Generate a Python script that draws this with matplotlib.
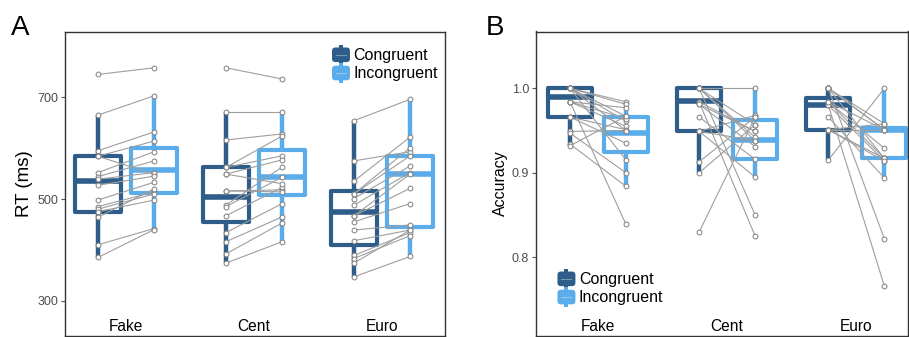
import matplotlib.pyplot as plt
from matplotlib.legend_handler import HandlerBase
from matplotlib.patches import FancyBboxPatch, Rectangle, Patch
from matplotlib.lines import Line2D

plt.rcParams['font.family'] = ['Liberation Sans', 'DejaVu Sans']

conditions = ['Fake', 'Cent', 'Euro']
dark = '#2d5d88'
light = '#5aacea'

# reaction times (ms), one value per participant, paired by index
rt_fake_con = [745, 665, 595, 584, 584, 552, 544, 539, 527, 498, 485, 480, 475, 464, 410, 385]
rt_fake_inc = [758, 703, 632, 614, 549, 593, 575, 552, 545, 533, 514, 510, 498, 520, 442, 440]
rt_cent_con = [758, 671, 616, 562, 562, 549, 516, 516, 488, 485, 467, 434, 416, 392, 374, 549]
rt_cent_inc = [736, 671, 628, 624, 585, 577, 518, 514, 563, 543, 523, 491, 465, 453, 416, 530]
rt_euro_con = [654, 575, 535, 510, 510, 501, 488, 467, 467, 455, 439, 418, 389, 383, 374, 347]
rt_euro_inc = [696, 593, 622, 601, 585, 565, 552, 549, 521, 491, 449, 439, 434, 428, 439, 387]

# RT box summaries per condition: Fake, Cent, Euro
rt_con_q1 = [474, 455, 410]
rt_con_med = [535, 503, 475]
rt_con_q3 = [584, 562, 516]
rt_con_lo = [385, 374, 347]
rt_con_hi = [665, 671, 654]
rt_inc_q1 = [511, 508, 444]
rt_inc_med = [557, 543, 550]
rt_inc_q3 = [601, 596, 585]
rt_inc_lo = [440, 416, 387]
rt_inc_hi = [703, 671, 696]

# accuracy (proportion correct), paired by index
acc_fake_con = [1.0, 1.0, 1.0, 1.0, 1.0, 1.0, 0.984, 0.984, 0.984, 0.984, 0.966, 0.966, 0.949, 0.947, 0.934, 0.932]
acc_fake_inc = [0.984, 0.981, 0.967, 0.961, 0.950, 0.915, 0.839, 0.977, 0.964, 0.955, 0.951, 0.935, 0.950, 0.900, 0.884, 0.967]
acc_cent_con = [1.0, 1.0, 1.0, 1.0, 1.0, 0.984, 0.984, 0.981, 0.966, 0.949, 0.949, 0.949, 0.913, 0.900, 0.830, 0.981]
acc_cent_inc = [1.0, 0.957, 0.942, 0.938, 0.850, 0.825, 0.949, 0.931, 0.916, 0.968, 0.938, 0.895, 0.966, 0.957, 0.966, 0.949]
acc_euro_con = [1.0, 1.0, 1.0, 1.0, 0.984, 0.984, 0.980, 0.980, 0.966, 0.951, 0.951, 0.951, 0.915, 1.0, 0.984, 0.951]
acc_euro_inc = [0.958, 0.951, 0.917, 0.822, 0.951, 0.929, 0.766, 0.914, 0.894, 0.958, 0.951, 0.917, 1.0, 0.951, 0.917, 0.914]

acc_con_q1 = [0.966, 0.949, 0.951]
acc_con_med = [0.990, 0.985, 0.980]
acc_con_q3 = [1.0, 1.0, 0.988]
acc_con_lo = [0.932, 0.900, 0.915]
acc_con_hi = [1.0, 1.0, 1.0]
acc_inc_q1 = [0.925, 0.916, 0.917]
acc_inc_med = [0.947, 0.939, 0.951]
acc_inc_q3 = [0.966, 0.962, 0.953]
acc_inc_lo = [0.884, 0.895, 0.894]
acc_inc_hi = [0.984, 1.0, 1.0]


class BoxKey(HandlerBase):
    # little boxplot glyph for the legend
    def create_artists(self, legend, orig_handle, xdescent, ydescent,
                       width, height, fontsize, trans):
        c = orig_handle.get_facecolor()
        x0, y0 = -xdescent, -ydescent
        body = FancyBboxPatch((x0 + width * 0.05, y0 + height * 0.08), width * 0.9, height * 0.84,
                              boxstyle='round,pad=0,rounding_size=2.5', fc=c, ec='none',
                              transform=trans)
        nub = Rectangle((x0 + width * 0.4, y0 - height * 0.08), width * 0.2, height * 1.16,
                        fc=c, ec='none', transform=trans)
        mid = Line2D([x0 + width * 0.25, x0 + width * 0.75], [y0 + height / 2] * 2,
                     color='white', alpha=0.35, lw=0.8, transform=trans)
        return [body, nub, mid]


def summaries(q1, med, q3, lo, hi):
    return [dict(q1=a, med=b, q3=c, whislo=d, whishi=e, fliers=[])
            for a, b, c, d, e in zip(q1, med, q3, lo, hi)]


def draw_panel(ax, con_sets, inc_sets, con_stats, inc_stats, off, bw):
    pos = list(range(len(conditions)))
    for stats, shift, c in [(con_stats, -off, dark), (inc_stats, off, light)]:
        ax.bxp(stats, positions=[p + shift for p in pos], widths=bw,
               patch_artist=True, showcaps=False, showfliers=False,
               boxprops=dict(facecolor='white', edgecolor=c, linewidth=3.0, joinstyle='round'),
               whiskerprops=dict(color=c, linewidth=3.2, solid_capstyle='butt'),
               medianprops=dict(color=c, linewidth=4.0, solid_capstyle='butt'),
               zorder=2)
    for p, con, inc in zip(pos, con_sets, inc_sets):
        xc, xi = p - off, p + off
        for a, b in zip(con, inc):
            ax.plot([xc, xi], [a, b], color='#9e9e9e', lw=0.8, zorder=3)
        ax.plot([xc] * len(con), con, 'o', ms=3.5, mfc='white', mec='#7f7f7f', mew=0.7, zorder=4)
        ax.plot([xi] * len(inc), inc, 'o', ms=3.5, mfc='white', mec='#7f7f7f', mew=0.7, zorder=4)
        ax.text(p, 0.015, conditions[p], transform=ax.get_xaxis_transform(),
                ha='center', va='baseline', fontsize=11.2)
    ax.set_xticks([])
    for s in ax.spines.values():
        s.set_color('#333333')
        s.set_linewidth(1.0)
    ax.tick_params(axis='y', length=3, width=0.8, color='#555555', labelcolor='#4d4d4d', pad=2)


fig = plt.figure(figsize=(9.09, 3.37), dpi=100)
W, H = 909, 337

axA = fig.add_axes([65 / W, 1.5 / H, 380 / W, 304 / H])
draw_panel(axA,
           [rt_fake_con, rt_cent_con, rt_euro_con],
           [rt_fake_inc, rt_cent_inc, rt_euro_inc],
           summaries(rt_con_q1, rt_con_med, rt_con_q3, rt_con_lo, rt_con_hi),
           summaries(rt_inc_q1, rt_inc_med, rt_inc_q3, rt_inc_lo, rt_inc_hi),
           0.22, 0.36)
axA.set_xlim(-0.477, 2.492)
axA.set_ylim(231.6, 829.4)
axA.set_yticks([300, 500, 700])
axA.tick_params(axis='y', labelsize=9.0)
axA.set_ylabel('RT (ms)', fontsize=13.5, labelpad=3)

axB = fig.add_axes([536 / W, 1.5 / H, 372 / W, 304 / H])
draw_panel(axB,
           [acc_fake_con, acc_cent_con, acc_euro_con],
           [acc_fake_inc, acc_cent_inc, acc_euro_inc],
           summaries(acc_con_q1, acc_con_med, acc_con_q3, acc_con_lo, acc_con_hi),
           summaries(acc_inc_q1, acc_inc_med, acc_inc_q3, acc_inc_lo, acc_inc_hi),
           0.217, 0.34)
axB.set_xlim(-0.48, 2.40)
axB.set_ylim(0.7075, 1.0672)
axB.set_yticks([0.8, 0.9, 1.0])
axB.set_yticklabels(['0.8', '0.9', '1.0'])
axB.tick_params(axis='y', labelsize=9.0)
axB.set_ylabel('Accuracy', fontsize=11.5, labelpad=3)

handles = [Patch(facecolor=dark), Patch(facecolor=light)]
labels = ['Congruent', 'Incongruent']
for ax, anchor in [(axA, (0.70, 0.952)), (axB, (0.055, 0.215))]:
    ax.legend(handles, labels, handler_map={Patch: BoxKey()}, loc='upper left',
              bbox_to_anchor=anchor, frameon=False, fontsize=11.5,
              handlelength=1.25, handleheight=1.3, handletextpad=0.15,
              labelspacing=0.05, borderpad=0, borderaxespad=0)

fig.text(11 / W, 1 - 35 / H, 'A', fontsize=20, va='baseline')
fig.text(486 / W, 1 - 35 / H, 'B', fontsize=20, va='baseline')

fig.savefig('out.png', dpi=100)
